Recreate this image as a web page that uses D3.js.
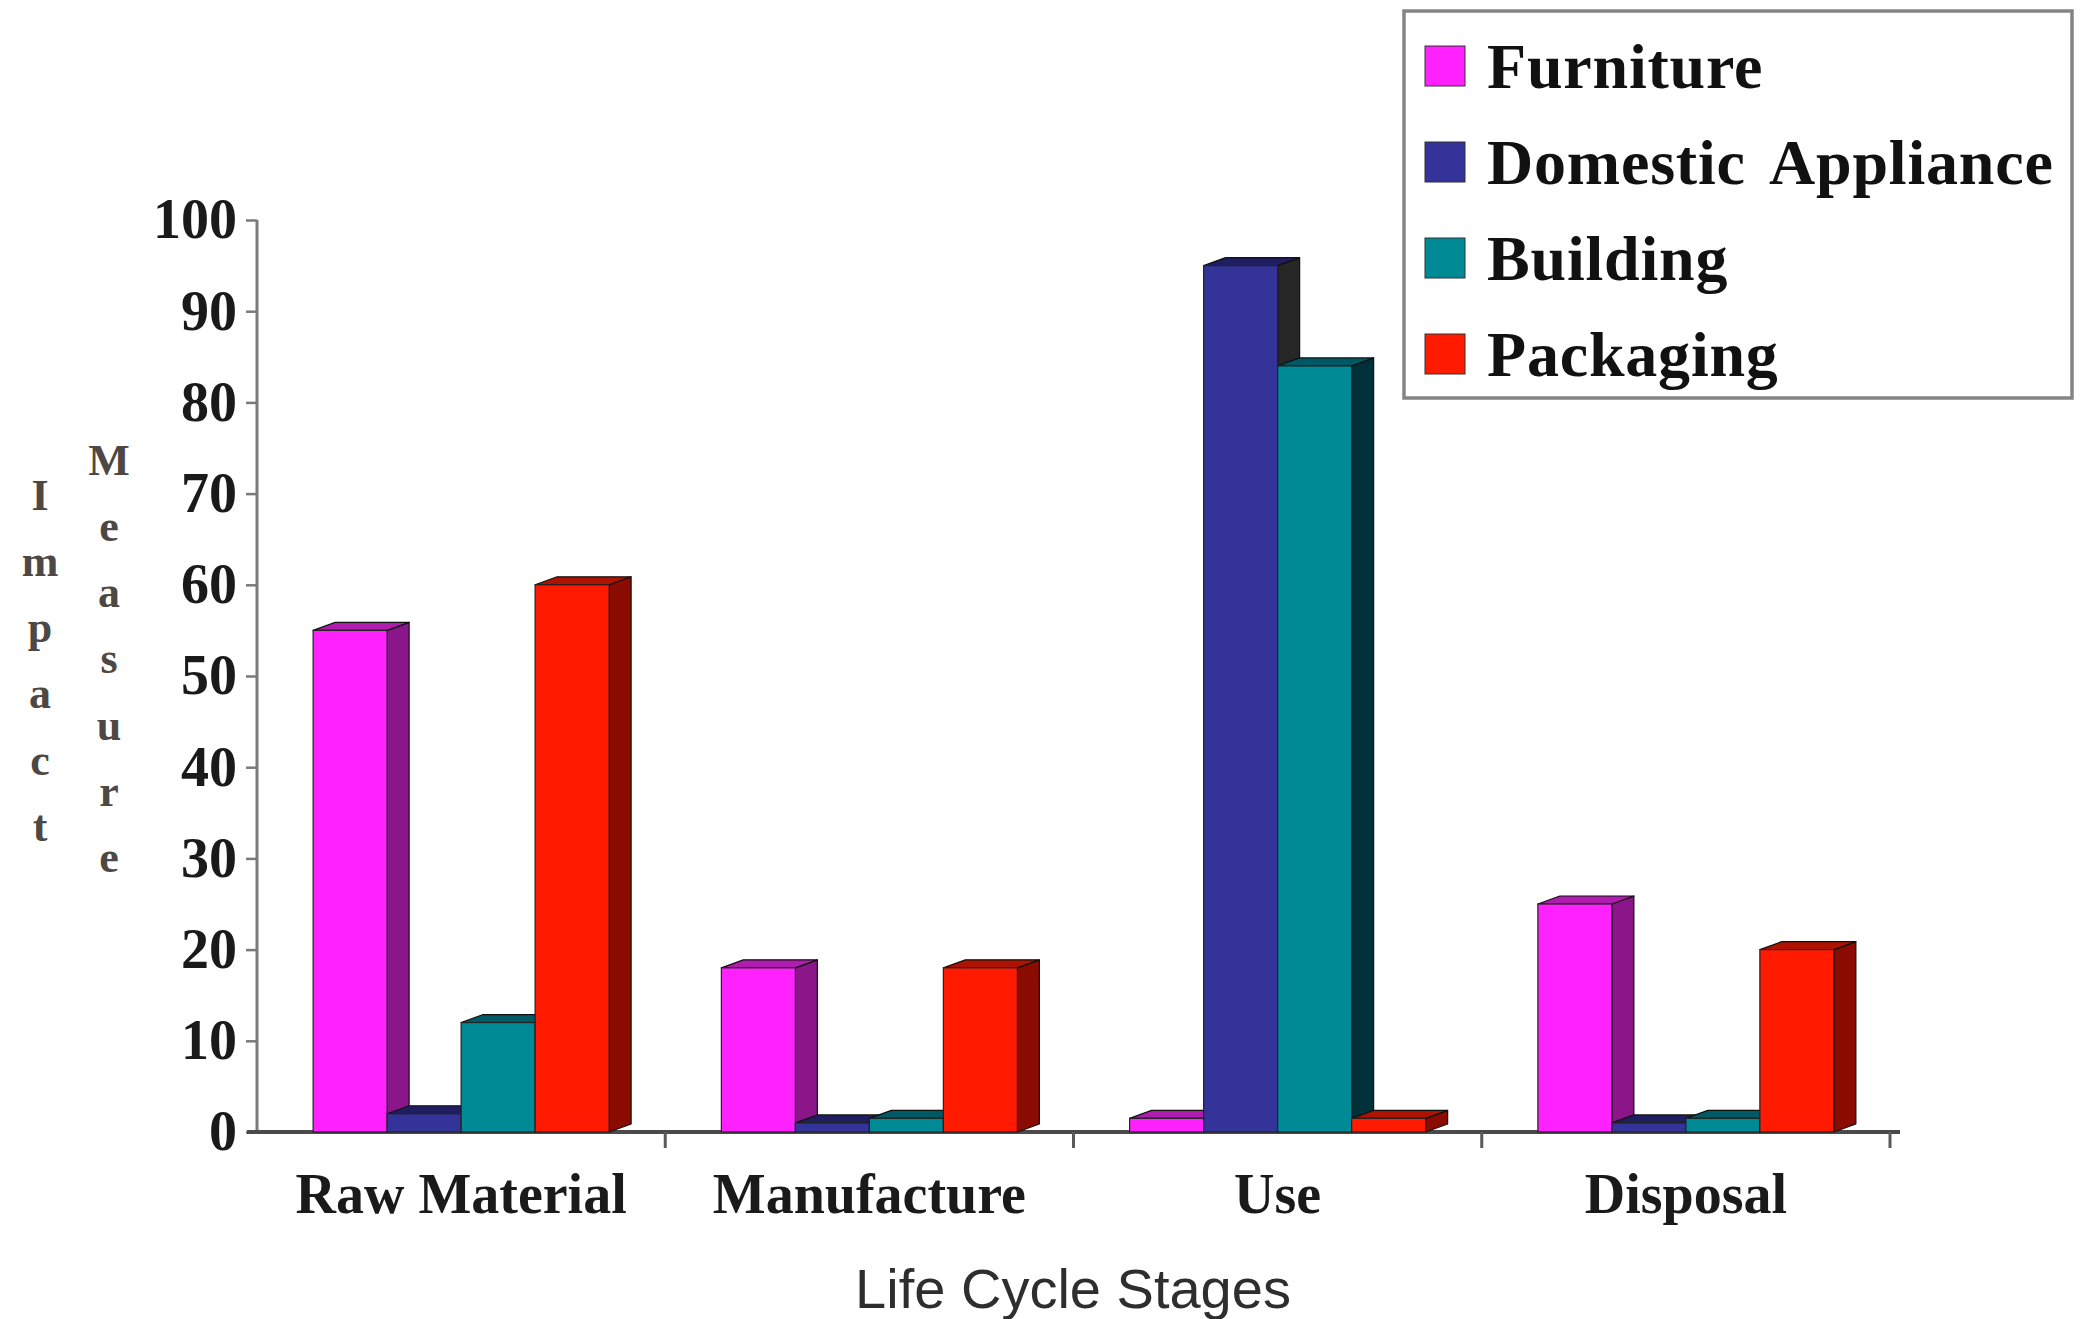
<!DOCTYPE html>
<html>
<head>
<meta charset="utf-8">
<script src="https://cdn.jsdelivr.net/npm/d3@7"></script>
<style>
  html, body { margin: 0; padding: 0; background: #ffffff; }
  svg { display: block; }
</style>
</head>
<body>
<svg id="chart" width="2085" height="1319"></svg>
<script>
// Life cycle stages on the x axis, one bar per product type in each stage
const stages = ["Raw Material", "Manufacture", "Use", "Disposal"];
const seriesNames = ["Furniture", "Domestic Appliance", "Building", "Packaging"];

const furniture = [55, 18, 1.5, 25];
const domesticAppliance = [2, 1, 95, 1];
const building = [12, 1.5, 84, 1.5];
const packaging = [60, 18, 1.5, 20];

const yTicks = [0, 10, 20, 30, 40, 50, 60, 70, 80, 90, 100];
const yTitleWords = ["Impact", "Measure"];
const xTitle = "Life Cycle Stages";

// front, side and top face colours for each series
const frontColors = ["#ff22ff", "#333399", "#008a96", "#ff1a00"];
const sideColors = ["#8a168a", "#262626", "#00303a", "#8a0c00"];
const topColors = ["#b01cb0", "#1e1e60", "#005a66", "#b01200"];

const seriesValues = [furniture, domesticAppliance, building, packaging];

const svg = d3.select("#chart");
const serif = "'Liberation Serif', 'Times New Roman', serif";
const sans = "'Liberation Sans', Arial, sans-serif";

const x0 = d3.scaleBand().domain(stages).range([257, 1890]).paddingInner(0).paddingOuter(0);
const groupW = 296;
const x1 = d3.scaleBand().domain(seriesNames)
  .range([(x0.bandwidth() - groupW) / 2, (x0.bandwidth() + groupW) / 2]);
const y = d3.scaleLinear().domain([0, 100]).range([1132, 220]);

const depthX = 22, depthY = 8;

// y axis
const yAxisG = svg.append("g").attr("transform", `translate(${x0.range()[0]},0)`)
  .call(d3.axisLeft(y).tickValues(yTicks).tickSize(11).tickPadding(9).tickFormat(d3.format("d")));
yAxisG.select(".domain").attr("stroke", "#7a7a7a").attr("stroke-width", 3)
  .attr("d", `M0,${y(100)}V${y(0)}`);
yAxisG.selectAll(".tick line").attr("stroke", "#7a7a7a").attr("stroke-width", 2.5);
yAxisG.selectAll(".tick text")
  .attr("font-family", serif).attr("font-weight", "bold").attr("font-size", 56)
  .attr("fill", "#1a1a1a");

// floor line with category separator ticks
const xAxisG = svg.append("g").attr("transform", `translate(0,${y(0)})`);
xAxisG.append("line")
  .attr("x1", x0.range()[0] - 10).attr("x2", x0.range()[1] + 10)
  .attr("y1", 0).attr("y2", 0)
  .attr("stroke", "#4a4a4a").attr("stroke-width", 4);
const sepTicks = stages.map(s => x0(s) + x0.bandwidth());
xAxisG.selectAll("line.sep").data(sepTicks).join("line")
  .attr("class", "sep")
  .attr("x1", d => d).attr("x2", d => d)
  .attr("y1", 0).attr("y2", 16)
  .attr("stroke", "#5a5a5a").attr("stroke-width", 3);

// category labels
svg.append("g").selectAll("text").data(stages).join("text")
  .attr("x", d => x0(d) + x0.bandwidth() / 2)
  .attr("y", 1213)
  .attr("text-anchor", "middle")
  .attr("font-family", serif).attr("font-weight", "bold").attr("font-size", 56)
  .attr("fill", "#1a1a1a")
  .text(d => d);

// bars drawn as boxes: side face, top face, then front face, left to right
const bars = [];
stages.forEach((stage, si) => {
  seriesNames.forEach((name, ki) => {
    bars.push({ stage, name, k: ki, value: seriesValues[ki][si] });
  });
});

const barG = svg.append("g");
const bw = x1.bandwidth();
bars.forEach(b => {
  const xl = x0(b.stage) + x1(b.name);
  const xr = xl + bw;
  const yt = y(b.value);
  const yb = y(0);
  const g = barG.append("g");
  g.append("polygon")
    .attr("points", [[xr, yt], [xr + depthX, yt - depthY], [xr + depthX, yb - depthY], [xr, yb]].join(" "))
    .attr("fill", sideColors[b.k]).attr("stroke", "#111").attr("stroke-width", 1.2)
    .attr("stroke-linejoin", "round");
  g.append("polygon")
    .attr("points", [[xl, yt], [xl + depthX, yt - depthY], [xr + depthX, yt - depthY], [xr, yt]].join(" "))
    .attr("fill", topColors[b.k]).attr("stroke", "#111").attr("stroke-width", 1.2)
    .attr("stroke-linejoin", "round");
  g.append("rect")
    .attr("x", xl).attr("y", yt)
    .attr("width", bw).attr("height", yb - yt)
    .attr("fill", frontColors[b.k]).attr("stroke", "#222").attr("stroke-width", 1.2);
});

// y axis title, letters stacked vertically in two columns
const titleCols = [
  { word: yTitleWords[0], x: 40, y0: 495 },
  { word: yTitleWords[1], x: 109, y0: 460 }
];
const letterStep = 66.3;
titleCols.forEach(col => {
  svg.append("g").selectAll("text").data(col.word.split("")).join("text")
    .attr("x", col.x)
    .attr("y", (d, i) => col.y0 + i * letterStep)
    .attr("text-anchor", "middle")
    .attr("dominant-baseline", "central")
    .attr("font-family", serif).attr("font-weight", "bold").attr("font-size", 44)
    .attr("fill", "#4d4843")
    .text(d => d);
});

// x axis title
svg.append("text")
  .attr("x", 1073).attr("y", 1308)
  .attr("text-anchor", "middle")
  .attr("font-family", sans).attr("font-size", 56)
  .attr("fill", "#2e2e2e")
  .text(xTitle);

// legend
const legend = svg.append("g");
legend.append("rect")
  .attr("x", 1404).attr("y", 11).attr("width", 668).attr("height", 387)
  .attr("fill", "#ffffff").attr("stroke", "#858585").attr("stroke-width", 3.5);
const legendY = d3.scalePoint().domain(seriesNames).range([66, 354]);
const items = legend.selectAll("g.item").data(seriesNames).join("g")
  .attr("class", "item")
  .attr("transform", d => `translate(0,${legendY(d)})`);
items.append("rect")
  .attr("x", 1425).attr("y", -20).attr("width", 40).attr("height", 40)
  .attr("fill", (d, i) => frontColors[i]).attr("stroke", "#333").attr("stroke-width", 1);
items.append("text")
  .attr("x", 1487).attr("y", 22)
  .attr("font-family", serif).attr("font-weight", "bold").attr("font-size", 64)
  .attr("letter-spacing", 0.8)
  .attr("word-spacing", 10)
  .attr("fill", "#111")
  .text(d => d);
</script>
</body>
</html>
